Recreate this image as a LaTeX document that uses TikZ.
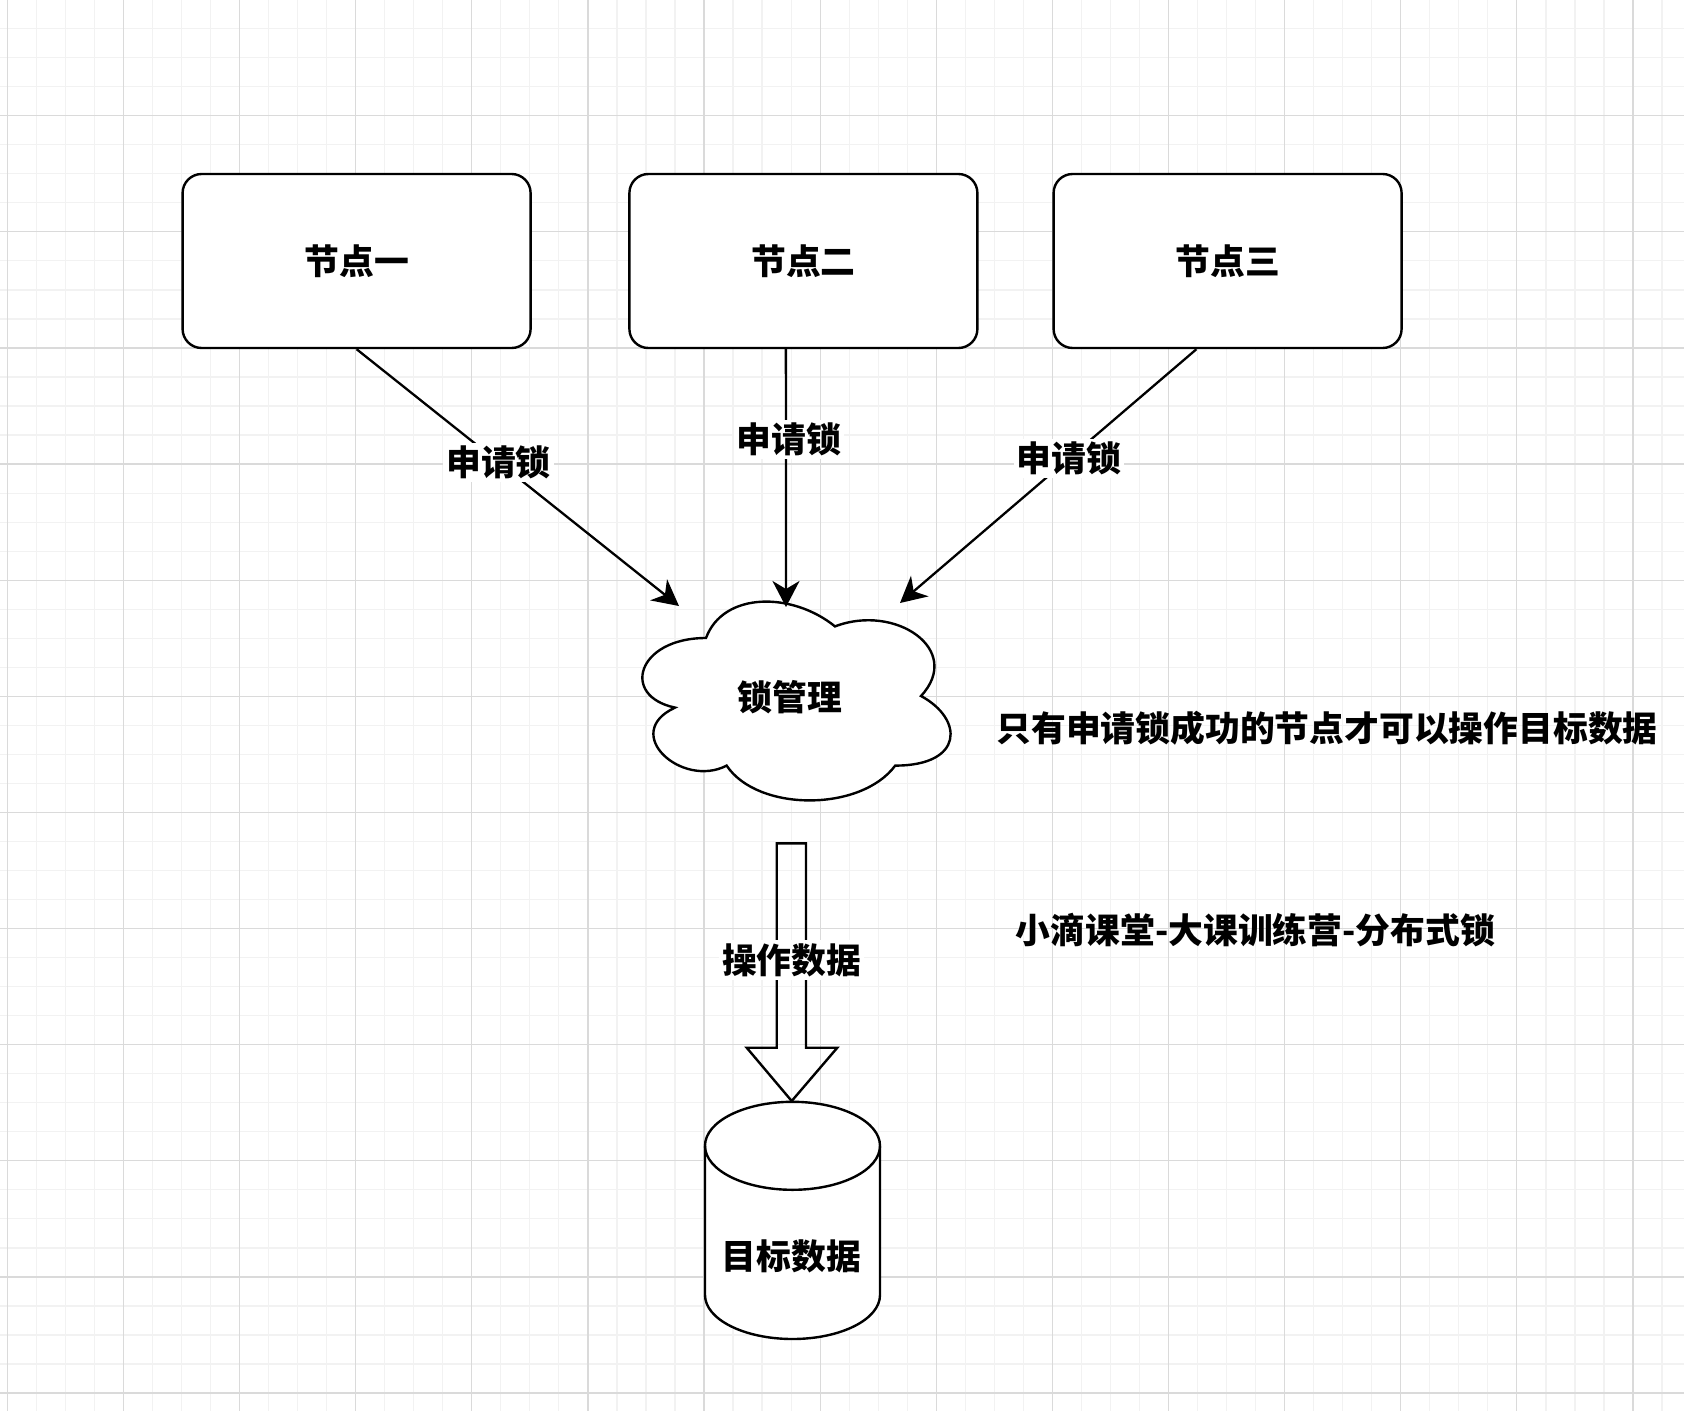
\documentclass[tikz,border=0pt]{standalone}
\usepackage{fontspec}
\setmainfont{Noto Sans CJK SC}
\usetikzlibrary{arrows.meta,calc}
\definecolor{gridminor}{HTML}{F2F2F2}
\definecolor{gridmajor}{HTML}{DADADA}
\tikzset{
  outline/.style={draw=black, line width=2.4pt},
  nodebox/.style={outline, fill=white, rounded corners=19pt, minimum width=348pt, minimum height=174pt, inner sep=0pt},
  lbl/.style={font=\bfseries\fontsize{34.8}{42}\selectfont, inner sep=0pt},
  edgelbl/.style={lbl, fill=white, inner sep=3pt},
  conn/.style={draw=black, line width=2.3pt, -{Stealth[length=26pt,width=27pt,inset=8pt]}},
}
\begin{document}
\begin{tikzpicture}[x=1pt,y=-1pt]
\useasboundingbox (0,0) rectangle (1684,1411);
\fill[white] (0,0) rectangle (1684,1411);
% grid
\foreach \i in {0,...,58} {
  \pgfmathsetmacro{\gx}{7.3+29.03*\i}
  \pgfmathsetmacro{\gy}{-0.4+29.03*\i}
  \draw[gridminor, line width=1.2pt] (\gx,0) -- (\gx,1411);
  \draw[gridminor, line width=1.2pt] (0,\gy) -- (1684,\gy);
}
\foreach \i in {0,...,15} {
  \pgfmathsetmacro{\gx}{7.3+116.12*\i}
  \pgfmathsetmacro{\gy}{-0.4+116.12*\i}
  \draw[gridmajor, line width=1.2pt] (\gx,0) -- (\gx,1411);
  \draw[gridmajor, line width=1.2pt] (0,\gy) -- (1684,\gy);
}
% nodes
\node[nodebox, lbl] (n1) at (356.6,261) {节点一};
\node[nodebox, lbl] (n2) at (803.4,261) {节点二};
\node[nodebox, lbl] (n3) at (1227.6,261) {节点三};
% cloud
\draw[outline, fill=white] (706,638)
  .. controls (637.2,638) and (620,696) .. (675.04,707.6)
  .. controls (620,733.12) and (681.92,788.8) .. (726.64,765.6)
  .. controls (757.6,812) and (860.8,812) .. (895.2,765.6)
  .. controls (964,765.6) and (964,719.2) .. (921,696)
  .. controls (964,649.6) and (895.2,603.2) .. (835,626.4)
  .. controls (792,591.6) and (723.2,591.6) .. (706,638) -- cycle;
\node[lbl] (cloud) at (790,697) {锁管理};
% arrow endpoints on the cloud
\coordinate (t1) at (679,606);
\coordinate (t2) at (786,607);
\coordinate (t3) at (900,603);
\coordinate (s2) at ($(n2.south west)!0.45!(n2.south east)$);
\coordinate (s3) at ($(n3.south west)!0.411!(n3.south east)$);
\draw[conn] (n1.south) -- (t1) node[edgelbl, pos=0.44] (l1) {申请锁};
\draw[conn] (s2) -- (t2) node[edgelbl, pos=0.35, xshift=3pt] (l2) {申请锁};
\draw[conn] (s3) -- (t3) node[edgelbl, pos=0.43] (l3) {申请锁};
% cylinder
\node[minimum width=175pt, minimum height=237.3pt, inner sep=0pt] (db) at (792.5,1220.4) {};
\draw[outline, fill=white] (705,1145.8) -- (705,1295)
  arc[start angle=180, end angle=360, x radius=87.5pt, y radius=44pt]
  -- (880,1145.8)
  arc[start angle=0, end angle=180, x radius=87.5pt, y radius=44pt] -- cycle;
\draw[outline] (705,1145.8) arc[start angle=180, end angle=360, x radius=87.5pt, y radius=44pt];
\node[lbl] (dbl) at (791.5,1256) {目标数据};
% block arrow from cloud to cylinder
\coordinate (ba) at (791.4,843.3);
\coordinate (bt) at (791.7,1101);
\draw[outline, line join=miter] ($(ba)+(-14.7,0)$) -- ($(ba)+(-14.7,204.4)$) -- ($(ba)+(-44.7,204.4)$)
  -- (bt) -- ($(ba)+(45.9,204.4)$) -- ($(ba)+(14.6,204.4)$) -- ($(ba)+(14.6,0)$) -- cycle;
\node[edgelbl] (opl) at (791.7,960) {操作数据};
% side notes
\node[lbl] (note1) at (1327,728) {只有申请锁成功的节点才可以操作目标数据};
\node[lbl] (note2) at (1255.5,930) {小滴课堂-大课训练营-分布式锁};
\end{tikzpicture}
\end{document}
